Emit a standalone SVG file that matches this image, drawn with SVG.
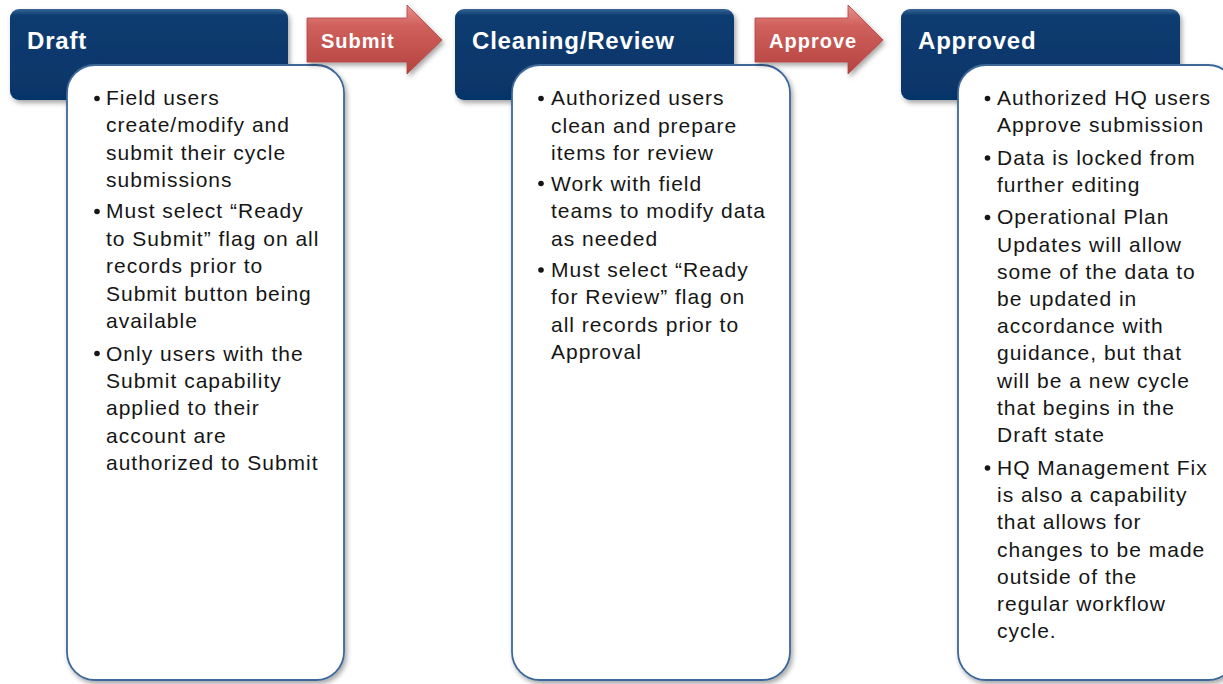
<svg xmlns="http://www.w3.org/2000/svg" width="1223" height="684" viewBox="0 0 1223 684">
<defs>
<linearGradient id="hdr" x1="0" y1="0" x2="0" y2="1">
<stop offset="0" stop-color="#3A6696"/>
<stop offset="0.07" stop-color="#0C3C70"/>
<stop offset="1" stop-color="#06356A"/>
</linearGradient>
<linearGradient id="arr" x1="0" y1="0" x2="0" y2="1">
<stop offset="0" stop-color="#E8918D"/>
<stop offset="0.3" stop-color="#D0605C"/>
<stop offset="1" stop-color="#B5433F"/>
</linearGradient>
<filter id="sh" x="-10%" y="-10%" width="130%" height="130%">
<feDropShadow dx="2" dy="3" stdDeviation="2.5" flood-color="#000" flood-opacity="0.35"/>
</filter>
</defs>
<style>
.hdr{fill:url(#hdr);filter:url(#sh)}
.body{fill:#FFFFFF;stroke:#3D6899;stroke-width:1.8;filter:url(#sh)}
.arrow{fill:url(#arr);stroke:#B4433F;stroke-width:0.8;filter:url(#sh)}
.ht{font-family:"Liberation Sans",Arial,sans-serif;font-weight:bold;font-size:24px;letter-spacing:0.8px;fill:#FFFFFF}
.at{font-family:"Liberation Sans",Arial,sans-serif;font-weight:bold;font-size:20px;letter-spacing:1px;fill:#FFFFFF}
.bt{font-family:"Liberation Sans",Arial,sans-serif;font-size:21px;letter-spacing:1px;fill:#161616}
.bul{fill:#161616}
</style>
<rect width="1223" height="684" fill="#FFFFFF"/>

<g id="draft">
<rect class="hdr" x="10" y="9" width="278" height="91" rx="9"/>
<text class="ht" x="27" y="49">Draft</text>
<rect class="body" x="67" y="65" width="277" height="615" rx="28"/>
<circle class="bul" cx="97" cy="98.5" r="2.8"/>
<circle class="bul" cx="97" cy="211.5" r="2.8"/>
<circle class="bul" cx="97" cy="353.5" r="2.8"/>
<text class="bt">
<tspan x="106" y="105">Field users</tspan>
<tspan x="106" y="132.4">create/modify and</tspan>
<tspan x="106" y="159.8">submit their cycle</tspan>
<tspan x="106" y="187.2">submissions</tspan>
<tspan x="106" y="218.4">Must select “Ready</tspan>
<tspan x="106" y="245.8">to Submit” flag on all</tspan>
<tspan x="106" y="273.2">records prior to</tspan>
<tspan x="106" y="300.6">Submit button being</tspan>
<tspan x="106" y="328">available</tspan>
<tspan x="106" y="360.5">Only users with the</tspan>
<tspan x="106" y="387.9">Submit capability</tspan>
<tspan x="106" y="415.3">applied to their</tspan>
<tspan x="106" y="442.7">account are</tspan>
<tspan x="106" y="470.1">authorized to Submit</tspan>
</text>
</g>

<g id="cleaning">
<rect class="hdr" x="455" y="9" width="279" height="91" rx="9"/>
<text class="ht" x="472" y="49">Cleaning/Review</text>
<rect class="body" x="512" y="65" width="278" height="615" rx="28"/>
<circle class="bul" cx="541" cy="98.5" r="2.8"/>
<circle class="bul" cx="541" cy="183.5" r="2.8"/>
<circle class="bul" cx="541" cy="270" r="2.8"/>
<text class="bt">
<tspan x="551" y="105">Authorized users</tspan>
<tspan x="551" y="132.5">clean and prepare</tspan>
<tspan x="551" y="160">items for review</tspan>
<tspan x="551" y="190.5">Work with field</tspan>
<tspan x="551" y="218">teams to modify data</tspan>
<tspan x="551" y="245.5">as needed</tspan>
<tspan x="551" y="277">Must select “Ready</tspan>
<tspan x="551" y="304.4">for Review” flag on</tspan>
<tspan x="551" y="331.8">all records prior to</tspan>
<tspan x="551" y="359.2">Approval</tspan>
</text>
</g>

<g id="approved">
<rect class="hdr" x="901" y="9" width="279" height="91" rx="9"/>
<text class="ht" x="918" y="49">Approved</text>
<rect class="body" x="958" y="65" width="278" height="615" rx="28"/>
<circle class="bul" cx="987.5" cy="98.5" r="2.8"/>
<circle class="bul" cx="987.5" cy="158" r="2.8"/>
<circle class="bul" cx="987.5" cy="217.5" r="2.8"/>
<circle class="bul" cx="987.5" cy="468" r="2.8"/>
<text class="bt">
<tspan x="997" y="105">Authorized HQ users</tspan>
<tspan x="997" y="132.2">Approve submission</tspan>
<tspan x="997" y="164.7">Data is locked from</tspan>
<tspan x="997" y="191.9">further editing</tspan>
<tspan x="997" y="224.4">Operational Plan</tspan>
<tspan x="997" y="251.6">Updates will allow</tspan>
<tspan x="997" y="278.8">some of the data to</tspan>
<tspan x="997" y="306">be updated in</tspan>
<tspan x="997" y="333.2">accordance with</tspan>
<tspan x="997" y="360.4">guidance, but that</tspan>
<tspan x="997" y="387.6">will be a new cycle</tspan>
<tspan x="997" y="414.8">that begins in the</tspan>
<tspan x="997" y="442">Draft state</tspan>
<tspan x="997" y="475">HQ Management Fix</tspan>
<tspan x="997" y="502.2">is also a capability</tspan>
<tspan x="997" y="529.4">that allows for</tspan>
<tspan x="997" y="556.6">changes to be made</tspan>
<tspan x="997" y="583.8">outside of the</tspan>
<tspan x="997" y="611">regular workflow</tspan>
<tspan x="997" y="638.2">cycle.</tspan>
</text>
</g>

<g id="connectors">
<g id="submit-arrow">
<polygon class="arrow" points="307,18 407,18 407,5 442,40 407,74 407,62 307,62"/>
<text class="at" x="321" y="47.5">Submit</text>
</g>
<g id="approve-arrow">
<polygon class="arrow" points="755,18 848,18 848,5 883,40 848,74 848,62 755,62"/>
<text class="at" x="769" y="47.5">Approve</text>
</g>
</g>
</svg>
